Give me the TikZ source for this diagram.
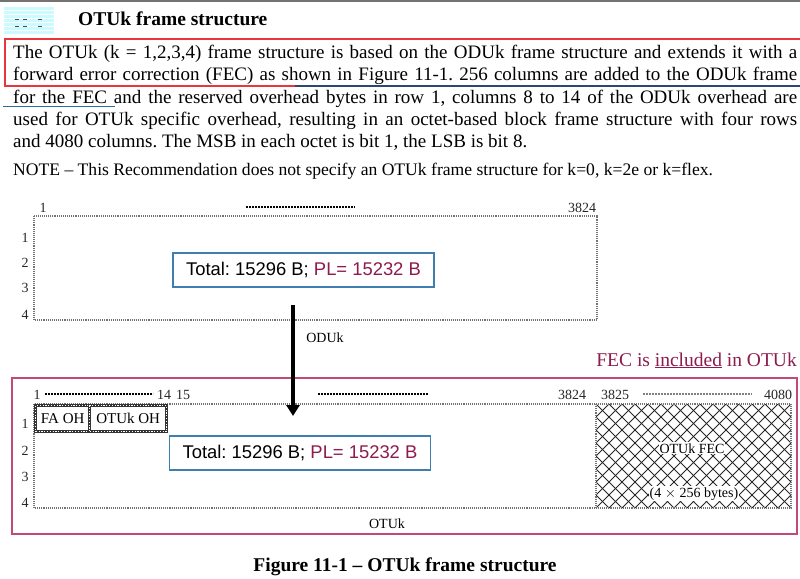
\documentclass[tikz,border=0pt]{standalone}
\usepackage{fontspec}
\setmainfont{Liberation Serif}
\newfontfamily\arialfont{Liberation Sans}
\usetikzlibrary{arrows.meta}
\frenchspacing

\definecolor{plred}{HTML}{8E1A4E}
\definecolor{otupink}{HTML}{C04A78}
\definecolor{totblue}{HTML}{3F7FAF}
\definecolor{boxred}{HTML}{E8363C}
\definecolor{navyline}{HTML}{2F4670}
\definecolor{tealline}{HTML}{2E6E9E}
\definecolor{hdrcyan}{HTML}{CCFBFF}

\begin{document}
\begin{tikzpicture}[x=1pt,y=-1pt,
	every node/.style={inner sep=0pt},
	parline/.style={anchor=base west, font=\fontsize{19}{22}\selectfont},
	numlbl/.style={anchor=base, font=\fontsize{14}{14}\selectfont, text=black!85},
	frameline/.style={draw=black!55, line width=1.1pt, densely dotted},
	totalbox/.style={draw=totblue, line width=1.2pt, fill=white, minimum width=261pt, minimum height=34pt, font=\arialfont\fontsize{18.4}{18}\selectfont},
	ohbox/.style={draw=black!80, line width=3.4pt, fill=white, postaction={draw=white, line width=1.2pt, dash pattern=on 1.2pt off 1.6pt}, minimum height=26pt, anchor=north west, font=\fontsize{15}{15}\selectfont},
	rulerdash/.style={line width=1.3pt, dash pattern=on 2pt off 1pt},
	hatch/.style={black!85, line width=0.9pt},
	]
	\useasboundingbox (0,0) rectangle (800,578);
	% heading
	\draw[black!55, line width=1.5pt] (0,1) -- (800,1);
	\fill[hdrcyan] (4,7) rectangle (54,35);
	\foreach \y in {10,14,...,34} {\draw[white, line width=0.6pt] (4,\y) -- (54,\y);}
	\foreach \x in {15,23,38} {\draw[black!70, line width=0.8pt] (\x,19) -- ++(4,0); \draw[black!70, line width=0.8pt] (\x,26) -- ++(4,0);}
	\node[anchor=base west, font=\bfseries\fontsize{19.5}{19.5}\selectfont] (title) at (78,26) {OTUk frame structure};

	% paragraph
	\draw[boxred, line width=1.2pt] (800,39) -- (5,39) -- (5,86) -- (295,86);
	\draw[navyline, line width=1.2pt] (295,86) -- (800,86);
	\draw[tealline, line width=1.2pt] (3,106.5) -- (115,106.5);
	\node[parline] (par1) at (13,59) {\makebox[784pt][s]{The OTUk (k = 1,2,3,4) frame structure is based on the ODUk frame structure and extends it with a}};
	\node[parline] (par2) at (13,81) {\makebox[784pt][s]{forward error correction (FEC) as shown in Figure 11-1. 256 columns are added to the ODUk frame}};
	\node[parline] (par3) at (13,103) {\makebox[784pt][s]{for the FEC and the reserved overhead bytes in row 1, columns 8 to 14 of the ODUk overhead are}};
	\node[parline] (par4) at (13,125) {\makebox[784pt][s]{used for OTUk specific overhead, resulting in an octet-based block frame structure with four rows}};
	\node[parline] (par5) at (13,147) {and 4080 columns. The MSB in each octet is bit 1, the LSB is bit 8.};
	\node[anchor=base west, font=\fontsize{17.6}{17.6}\selectfont] (note) at (13,175) {NOTE -- This Recommendation does not specify an OTUk frame structure for k=0, k=2e or k=flex.};

	% ODUk frame
	\node[numlbl] (odcol1) at (43,212) {1};
	\draw[rulerdash] (246,207) -- (355,207);
	\node[numlbl] (odcol2) at (582,212) {3824};
	\draw[frameline] (34,216) rectangle (597,320);
	\foreach \r/\y in {1/242,2/267,3/292,4/319} {\node[numlbl] (odrow\r) at (25,\y) {\r};}
	\node[totalbox] (odtotal) at (303.5,270) {Total: 15296 B; \textcolor{plred}{PL= 15232 B}};
	\node[anchor=base, font=\fontsize{14}{14}\selectfont] (odlbl) at (325,342) {ODUk};

	% OTUk frame
	\node[anchor=base east, font=\fontsize{19.5}{19.5}\selectfont, text=plred] (fecnote) at (797,366) {FEC is \underline{included} in OTUk};
	\draw[otupink, line width=1.5pt] (12,378) rectangle (797,534);
	\node[numlbl] (otcol1) at (37,399) {1};
	\draw[rulerdash] (45,394) -- (153,394);
	\node[numlbl] (otcol14) at (164,399) {14};
	\node[numlbl] (otcol15) at (183,399) {15};
	\draw[rulerdash] (318,394) -- (428,394);
	\node[numlbl] (otcol3824) at (572,399) {3824};
	\node[numlbl] (otcol3825) at (615,399) {3825};
	\draw[black!50, line width=1.3pt, dash pattern=on 1.5pt off 1.5pt] (643,394) -- (752,394);
	\node[numlbl] (otcol4080) at (778,399) {4080};
	\foreach \r/\y in {1/428,2/455,3/481,4/507} {\node[numlbl] (otrow\r) at (25,\y) {\r};}
	\begin{scope}
		\clip (596,404) rectangle (791,508);
		\foreach \a in {479,492,...,796} {\draw[hatch] (\a,404) -- ++(104,104); \draw[hatch] (\a,508) -- ++(104,-104);}
	\end{scope}
	\draw[frameline] (34,404) rectangle (791,508);
	\draw[frameline] (596,404) -- (596,508);
	\node[ohbox, minimum width=54pt] (faoh) at (34,404) {FA OH};
	\node[ohbox, minimum width=77pt] (otuoh) at (88,404) {OTUk OH};
	\node[totalbox] (ottotal) at (300,453) {Total: 15296 B; \textcolor{plred}{PL= 15232 B}};
	\node[fill=white, inner sep=1pt, anchor=base, font=\fontsize{14}{14}\selectfont] (fec1) at (692,453) {OTUk FEC};
	\node[fill=white, inner sep=1pt, anchor=base, font=\fontsize{14}{14}\selectfont] (fec2) at (694,497) {(4 $\times$ 256 bytes)};
	\node[anchor=base, font=\fontsize{14}{14}\selectfont] (otlbl) at (387,528) {OTUk};
	\coordinate (otuk) at (293,416);

	% mapping arrow
	\coordinate (arrstart) at (293,305);
	\draw[line width=4pt, -{Triangle[width=13pt,length=11pt]}] (arrstart) -- (otuk);

	\node[anchor=base, font=\bfseries\fontsize{19.5}{19.5}\selectfont] (caption) at (405,571) {Figure 11-1 -- OTUk frame structure};
\end{tikzpicture}
\end{document}
